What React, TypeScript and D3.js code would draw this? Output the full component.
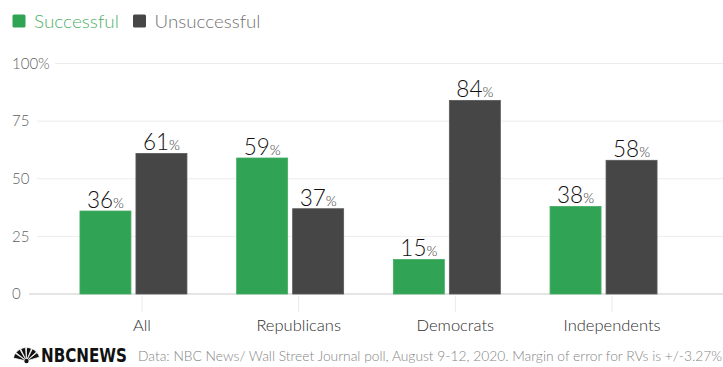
import React from "react";
import * as d3 from "d3";

const categories = ["All", "Republicans", "Democrats", "Independents"];
const seriesNames = ["Successful", "Unsuccessful"];
const successful = [36, 59, 15, 38];
const unsuccessful = [61, 37, 84, 58];
const yTicks = [0, 25, 50, 75, 100];
const colors = ["#31a354", "#464646"];
const legendTextColors = ["#4fb16a", "#727272"];
const footerText =
  "Data: NBC News/ Wall Street Journal poll, August 9-12, 2020. Margin of error for RVs is +/-3.27%";

const W = 723;
const H = 367;
const FONT = "Lato, 'Open Sans', 'Noto Sans', sans-serif";

export default function App() {
  const y = d3.scaleLinear().domain([0, 100]).range([294, 63.5]);
  const x = d3.scaleBand().domain(categories).range([63.6, 690.4]);
  const inner = d3
    .scaleBand()
    .domain(seriesNames)
    .range([0, 107])
    .paddingInner(0.0893);
  const values = [successful, unsuccessful];
  const legendLen = [85, 106];

  const feathers = d3.range(6).map((i) => {
    const a0 = -Math.PI / 2 - 1.35 + i * 0.45;
    const a1 = a0 + 0.38;
    return d3.arc()({
      innerRadius: 2.5,
      outerRadius: 13.5,
      startAngle: a0 + Math.PI / 2,
      endAngle: a1 + Math.PI / 2,
    } as any) as string;
  });

  return (
    <svg
      width={W}
      height={H}
      style={{ position: "absolute", left: 0, top: 0, background: "#fff" }}
      fontFamily={FONT}
    >
      {/* legend */}
      {seriesNames.map((s, i) => {
        const lx = i === 0 ? 12.5 : 133;
        return (
          <g key={s}>
            <rect x={lx} y={14.5} width={13} height={13} rx={1.5} fill={colors[i]} />
            <text
              x={lx + 21.5}
              y={27.5}
              fontSize={18}
              fontWeight={300}
              fill={legendTextColors[i]}
              textLength={legendLen[i]}
              lengthAdjust="spacingAndGlyphs"
            >
              {s}
            </text>
          </g>
        );
      })}

      {/* gridlines and y labels */}
      {yTicks.map((t) => {
        const label = t === 100 ? "100%" : String(t);
        const labelW = t === 100 ? 38 : t === 0 ? 12 : 20;
        return (
          <g key={t}>
            <line
              x1={12 + labelW + 5}
              x2={W}
              y1={y(t)}
              y2={y(t)}
              stroke={t === 0 ? "#dcdcdc" : "#ededed"}
              strokeWidth={t === 0 ? 1.5 : 1}
            />
            <text
              x={12}
              y={y(t)}
              dy="0.35em"
              fontSize={15}
              fontWeight={300}
              fill="#5f5f5f"
            >
              {label}
            </text>
          </g>
        );
      })}

      {/* category ticks and labels */}
      {categories.map((c) => {
        const cx = (x(c) as number) + x.bandwidth() / 2;
        return (
          <g key={c}>
            <line x1={cx} x2={cx} y1={296} y2={312} stroke="#ebebeb" strokeWidth={1} />
            <text
              x={cx}
              y={331}
              textAnchor="middle"
              fontSize={16.5}
              fontWeight={300}
              fill="#2e2e2e"
            >
              {c}
            </text>
          </g>
        );
      })}

      {/* bars */}
      {categories.map((c, ci) => {
        const gc = (x(c) as number) + x.bandwidth() / 2 - 8.5;
        const g0 = gc - 53.5;
        return (
          <g key={c}>
            {seriesNames.map((s, si) => {
              const v = values[si][ci];
              const bx = g0 + (inner(s) as number);
              const bw = inner.bandwidth();
              return (
                <g key={s}>
                  <rect
                    x={bx}
                    y={y(v)}
                    width={bw}
                    height={y(0) - y(v)}
                    fill={colors[si]}
                    stroke={si === 0 ? "#45ad64" : "#5a5a5a"}
                    strokeWidth={0.8}
                  />
                  <text
                    x={bx + bw / 2}
                    y={y(v) - 3}
                    textAnchor="middle"
                    fill="#111"
                    fontWeight={300}
                  >
                    <tspan fontSize={22.5}>{v}</tspan>
                    <tspan fontSize={14} fill="#333">%</tspan>
                  </text>
                </g>
              );
            })}
          </g>
        );
      })}

      {/* footer logo */}
      <g transform="translate(26.5,361)">
        {feathers.map((d, i) => (
          <path key={i} d={d} fill="#111" stroke="#fff" strokeWidth={0.8} />
        ))}
        <circle cx={0} cy={0} r={2.2} fill="#111" />
      </g>
      <text
        x={41}
        y={362}
        fontSize={19}
        fontWeight={900}
        fill="#111"
        fontFamily="'Liberation Sans Narrow', 'DejaVu Sans Condensed', Arial, sans-serif"
        textLength={86}
        lengthAdjust="spacingAndGlyphs"
      >
        NBCNEWS
      </text>
      <text
        x={138}
        y={361}
        fontSize={13}
        fontWeight={300}
        fill="#858585"
        textLength={584}
        lengthAdjust="spacingAndGlyphs"
      >
        {footerText}
      </text>
    </svg>
  );
}
